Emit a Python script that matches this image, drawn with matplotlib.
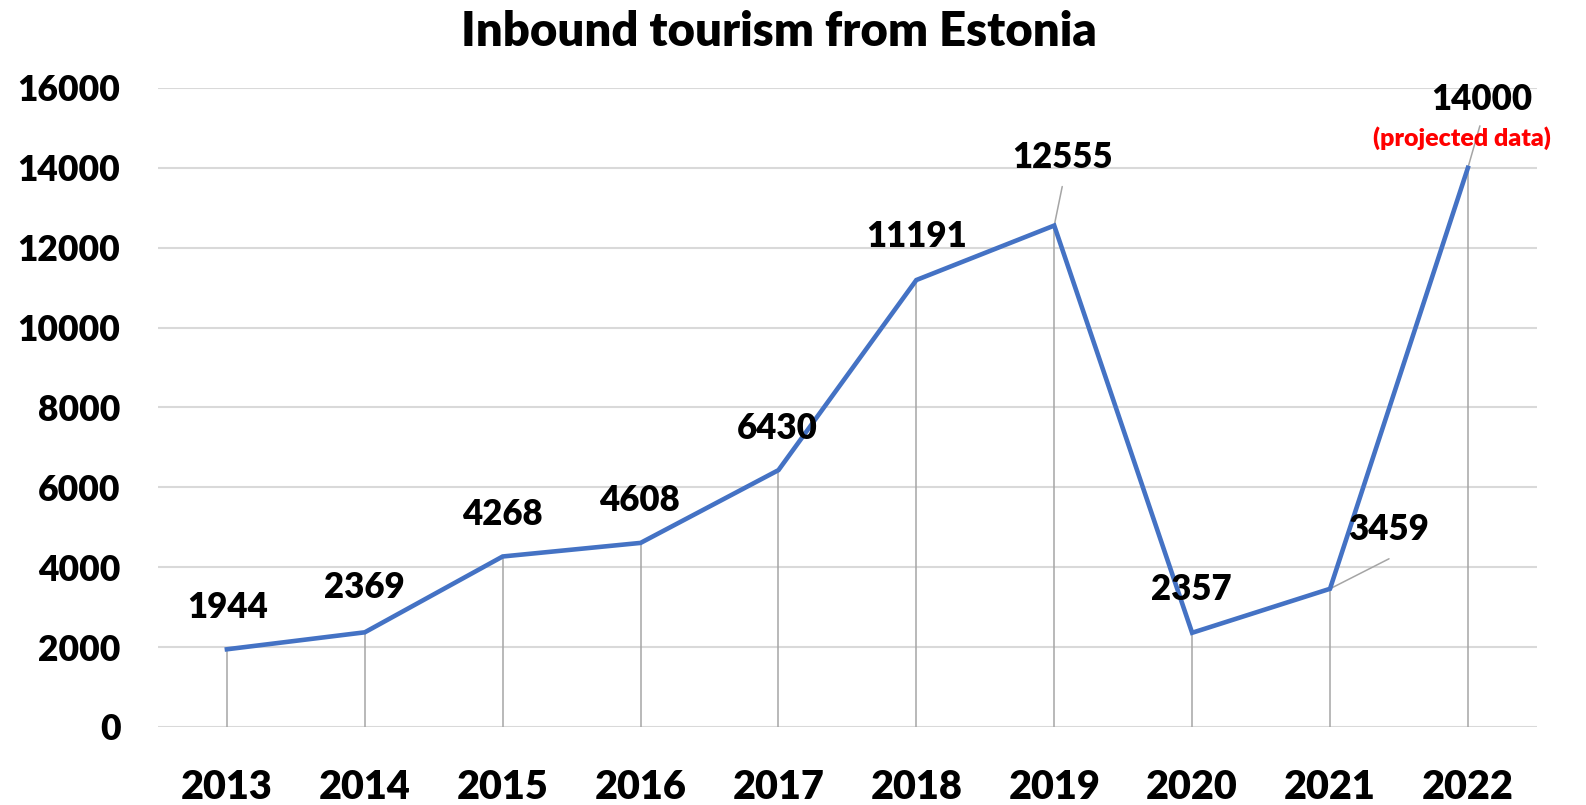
import matplotlib
matplotlib.use("Agg")
import matplotlib.pyplot as plt
import numpy as np

plt.rcParams['font.family'] = ['Lato', 'DejaVu Sans']
plt.rcParams['font.weight'] = 'heavy'

years = ["2013", "2014", "2015", "2016", "2017", "2018", "2019", "2020", "2021", "2022"]
tourists = [1944, 2369, 4268, 4608, 6430, 11191, 12555, 2357, 3459, 14000]

# label offsets in pixels from each point, and which labels get a leader line
label_offsets = [(1, 42), (0, 45), (0, 42), (-1, 42), (-1, 42), (0, 44), (8, 68), (-1, 43), (59, 59), (14, 68)]
leaders = {6: (8, 39), 8: (59, 30), 9: (12, 42)}

fig = plt.figure(figsize=(15.86, 8.05), dpi=100)
fig.set_facecolor('white')
ax = fig.add_axes([0.0996, 0.097, 0.8694, 0.7937])

x_pos = np.arange(len(years))

ax.vlines(x_pos, 0, tourists, color='#A5A5A5', linewidth=1.1, zorder=2)
ax.plot(x_pos, tourists, color='#4472C4', linewidth=3.3, zorder=3, solid_joinstyle='miter')

for i, (a, b) in enumerate(zip(x_pos, tourists)):
    if i in leaders:
        lx, ly = leaders[i]
        ax.annotate('', xy=(a, b), xytext=(lx, ly), textcoords='offset pixels',
                    arrowprops=dict(arrowstyle='-', color='#A5A5A5', linewidth=1.1, shrinkA=0, shrinkB=0),
                    zorder=2)
    dx, dy = label_offsets[i]
    ax.annotate(str(b), xy=(a, b), xytext=(dx, dy), textcoords='offset pixels',
                ha='center', va='center', fontsize=25, fontweight='heavy', color='black', zorder=4)

ax.annotate('(projected data)', xy=(x_pos[-1], tourists[-1]), xytext=(-6, 30), textcoords='offset pixels',
            ha='center', va='center', fontsize=18, fontweight='heavy', color='#FF0000', zorder=4)

ax.set_xlim(-0.5, len(years) - 0.5)
ax.set_ylim(0, 16000)
ax.set_yticks(np.arange(0, 16001, 2000))
ax.set_xticks(x_pos)
ax.set_xticklabels(years, fontsize=28.5, fontweight='heavy')
ax.tick_params(axis='y', labelsize=25.5, length=0, pad=27)
ax.tick_params(axis='x', length=0, pad=30)
for lbl in ax.get_yticklabels():
    lbl.set_fontweight('heavy')

ax.grid(axis='y', color='#D9D9D9', linewidth=1.5, zorder=0)
ax.set_axisbelow(True)
for s in ax.spines.values():
    s.set_visible(False)

fig.text(0.491, 0.96, 'Inbound tourism from Estonia', ha='center', va='center',
         fontsize=34, fontweight='heavy')

plt.savefig('out.png', dpi=100, facecolor='white')
